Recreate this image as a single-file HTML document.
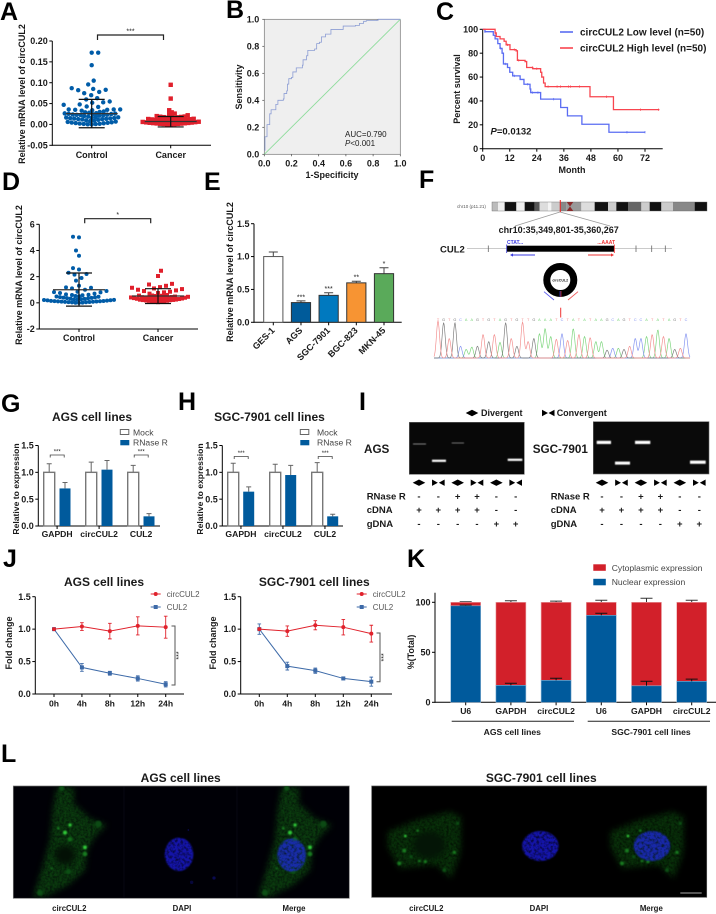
<!DOCTYPE html>
<html lang="en">
<head>
<meta charset="utf-8">
<title>circCUL2 multi-panel figure</title>
<style>
html,body{margin:0;padding:0;background:#fff;width:716px;height:914px;overflow:hidden}
svg{display:block;font-family:"Liberation Sans",Arial,sans-serif}
text{fill:#1a1a1a}
.b{font-weight:bold}
.letter{font-size:25px;font-weight:bold;fill:#000}
</style>
</head>
<body>
<svg id="figure" xmlns="http://www.w3.org/2000/svg" width="716" height="914" viewBox="0 0 716 914">
<defs>
<filter id="blurBig" color-interpolation-filters="sRGB" x="-30%" y="-30%" width="160%" height="160%"><feGaussianBlur stdDeviation="9"/></filter>
<filter id="speckleCell" color-interpolation-filters="sRGB" x="-30%" y="-30%" width="160%" height="160%">
<feGaussianBlur in="SourceGraphic" stdDeviation="9" result="b"/>
<feTurbulence type="fractalNoise" baseFrequency=".14" numOctaves="3" seed="3" result="n"/>
<feColorMatrix in="n" type="matrix" values="0 0 0 0 1  0 0 0 0 1  0 0 0 0 1  1.2 0 0 0 .2" result="a"/>
<feComposite in="b" in2="a" operator="in"/>
</filter>
<filter id="blurSmall" color-interpolation-filters="sRGB" x="-100%" y="-100%" width="300%" height="300%"><feGaussianBlur stdDeviation="2"/></filter>
<filter id="blurBand" color-interpolation-filters="sRGB" x="-20%" y="-200%" width="140%" height="500%"><feGaussianBlur stdDeviation="0.5"/></filter>
<filter id="blurNuc" color-interpolation-filters="sRGB" x="-20%" y="-20%" width="140%" height="140%">
<feGaussianBlur in="SourceGraphic" stdDeviation="2" result="b"/>
<feTurbulence type="fractalNoise" baseFrequency=".12" numOctaves="2" seed="7" result="n"/>
<feColorMatrix in="n" type="matrix" values="0 0 0 0 1  0 0 0 0 1  0 0 0 0 1  1.6 0 0 0 .05" result="a"/>
<feComposite in="b" in2="a" operator="in"/>
</filter>
<clipPath id="clipL1"><rect x="40" y="258" width="332" height="337"/></clipPath>
<clipPath id="clipL2"><rect x="47" y="258" width="335" height="334"/></clipPath>
</defs>

<g>
<text class="letter" x="0" y="20">A</text>
<text class="letter" x="226" y="18">B</text>
<text class="letter" x="436" y="20">C</text>
<text class="letter" x="2" y="190">D</text>
<text class="letter" x="204" y="190">E</text>
<text class="letter" x="419" y="188">F</text>
<text class="letter" x="1" y="412">G</text>
<text class="letter" x="178" y="410">H</text>
<text class="letter" x="359" y="410">I</text>
<text class="letter" x="3" y="567">J</text>
<text class="letter" x="407" y="567">K</text>
<text class="letter" x="1" y="762">L</text>
</g>

<g>
<g id="chromosome"></g>
<path d="M566.7 202L570 206.5 566.7 211H573.3L570 206.5 573.3 202Z" fill="#8a2a2a"/>
<text x="457" y="208" font-size="4.5" style="fill:#555">chr10 (p11.21)</text>
<line x1="560" y1="212" x2="515" y2="226" stroke="#999" stroke-width=".7"/>
<line x1="560" y1="212" x2="610" y2="226" stroke="#999" stroke-width=".7"/>
<line x1="560.3" y1="200" x2="560.3" y2="212" stroke="#e22" stroke-width="1"/>
<text class="b" x="558.7" y="233" font-size="9" text-anchor="middle">chr10:35,349,801-35,360,267</text>
<text class="b" x="440" y="252.5" font-size="9.5">CUL2</text>
<line x1="467" y1="248.7" x2="672" y2="248.7" stroke="#aaa" stroke-width=".7"/>
<g stroke="#666" stroke-width=".8">
<line x1="488.3" y1="245.5" x2="488.3" y2="252"/><line x1="636" y1="245.5" x2="636" y2="252"/><line x1="651.7" y1="245.5" x2="651.7" y2="252"/><line x1="665.3" y1="245.5" x2="665.3" y2="252"/>
</g>
<rect x="506.7" y="245.7" width="107.6" height="6" fill="#000"/>
<line x1="506.7" y1="244.5" x2="506.7" y2="253" stroke="#33c" stroke-width=".8"/>
<line x1="614.3" y1="244.5" x2="614.3" y2="253" stroke="#e22" stroke-width=".8"/>
<text class="b" x="507" y="244" font-size="5" style="fill:#3a3ae0">CTAT...</text>
<text class="b" x="615" y="244" font-size="5" text-anchor="end" style="fill:#ee3333">...AAAT</text>
<line x1="511" y1="255" x2="535" y2="255" stroke="#3a3ae0" stroke-width=".9"/>
<path d="M510 255l3-1.6v3.2z" fill="#3a3ae0"/>
<line x1="588" y1="255" x2="612" y2="255" stroke="#ee3333" stroke-width=".9"/>
<path d="M614 255l-3-1.6v3.2z" fill="#ee3333"/>
<circle cx="560.3" cy="280" r="13.5" fill="#fff" stroke="#000" stroke-width="7"/>
<text class="b" x="560.3" y="281.3" font-size="3.6" text-anchor="middle">circCUL2</text>
<line x1="560" y1="291" x2="560" y2="297" stroke="#3030c0" stroke-width=".8"/>
<line x1="561" y1="291" x2="561" y2="297" stroke="#d03030" stroke-width=".8"/>
<line x1="544" y1="291.7" x2="554" y2="300" stroke="#5a5aee" stroke-width=".9"/>
<line x1="578" y1="291.7" x2="568" y2="300" stroke="#ee5a5a" stroke-width=".9"/>
<line x1="560.7" y1="307.7" x2="560.7" y2="317.5" stroke="#e33" stroke-width="1"/>
</g>
<g id="sanger"></g>

<g>
<path d="M465.7 413l6.3-3.3v6.6zM478.3 413l-6.3-3.3v6.6z" fill="#000"/>
<text class="b" x="481" y="416.2" font-size="9">Divergent</text>
<path d="M542 409.7l6 3.3-6 3.3zM554.5 409.7l-6 3.3 6 3.3z" fill="#000"/>
<text class="b" x="556.7" y="416.2" font-size="9">Convergent</text>
<text class="b" x="364" y="453.2" font-size="11.7">AGS</text>
<text class="b" x="532.7" y="453.2" font-size="11.7">SGC-7901</text>
<rect x="409.3" y="422.3" width="115" height="52" fill="#080808" stroke="#666" stroke-width=".6"/>
<rect x="593.3" y="421.7" width="115.7" height="52.3" fill="#0a0a0a" stroke="#666" stroke-width=".6"/>
<g filter="url(#blurBand)" fill="#fff">
<rect x="413" y="443.5" width="13" height="1" fill="#888"/>
<rect x="432" y="459.7" width="14" height="2.2"/>
<rect x="451.7" y="442.5" width="12.3" height="1" fill="#777"/>
<rect x="507.7" y="458.7" width="14.6" height="2.2"/>
<rect x="596.7" y="440.8" width="14.3" height="3.2"/>
<rect x="615" y="461.6" width="15" height="3"/>
<rect x="635" y="440.8" width="15.3" height="3.2"/>
<rect x="690" y="460.6" width="15.7" height="3.2"/>
</g>
<g id="gelTable"></g>
</g>

<g>
<text class="b" x="180.7" y="782" font-size="12" text-anchor="middle">AGS cell lines</text>
<text class="b" x="541.3" y="782" font-size="12" text-anchor="middle">SGC-7901 cell lines</text>
<rect x="13.3" y="786" width="336" height="112.3" fill="#000006" stroke="#777" stroke-width=".7"/>
<rect x="371.7" y="786" width="335" height="111.3" fill="#000" stroke="#555" stroke-width=".7"/>
<line x1="124" y1="786.5" x2="124" y2="898" stroke="#0a0a18" stroke-width=".7"/>
<line x1="237" y1="786.5" x2="237" y2="898" stroke="#0a0a18" stroke-width=".7"/>
<g transform="translate(0,700) scale(.33333)">
<g id="agsGreen" clip-path="url(#clipL1)">
<path filter="url(#speckleCell)" d="M170 262H222V310L270 355 320 375 285 410 262 450 255 510 205 555 130 592 100 590 125 510 150 420 158 330Z" fill="#0a3a0e"/>
<ellipse filter="url(#blurBig)" cx="195" cy="465" rx="30" ry="28" fill="#031005"/>
<g filter="url(#blurSmall)" fill="#30c838">
<circle cx="210" cy="375" r="5"/><circle cx="195" cy="398" r="6"/><circle cx="210" cy="418" r="7" fill="#116a18"/><circle cx="255" cy="442" r="6"/><circle cx="255" cy="462" r="7" fill="#187a20"/><circle cx="175" cy="385" r="4" fill="#187a20"/><circle cx="295" cy="372" r="10" fill="#0c4a14"/><circle cx="205" cy="515" r="8" fill="#0c4f14"/><circle cx="120" cy="578" r="9" fill="#0c4f14"/><circle cx="185" cy="265" r="8" fill="#0c4f14"/><circle cx="155" cy="505" r="3" fill="#187a20"/>
</g>
</g>
<g>
<ellipse filter="url(#blurNuc)" cx="537" cy="463" rx="43" ry="50" fill="#1414a8"/>
<circle cx="565" cy="390" r="2.5" fill="#0a0a50"/><circle cx="642" cy="534" r="5" fill="#0a0a50"/><circle cx="575" cy="547" r="5" fill="#07073a"/>
</g>
<use href="#agsGreen" transform="translate(675,0)"/>
<ellipse filter="url(#blurNuc)" cx="875" cy="465" rx="43" ry="50" fill="#182ca8"/>
</g>
<g transform="translate(356,700) scale(.33333)">
<g id="sgcGreen" clip-path="url(#clipL2)">
<path filter="url(#speckleCell)" d="M95 395L180 360 280 335 315 350 315 440 310 470 285 535 240 495 130 505 95 440Z" fill="#083009"/>
<ellipse filter="url(#blurBig)" cx="220" cy="435" rx="48" ry="40" fill="#041506"/>
<g filter="url(#blurSmall)" fill="#187a20">
<circle cx="148" cy="408" r="4" fill="#30c838"/><circle cx="185" cy="392" r="4"/><circle cx="145" cy="452" r="6"/><circle cx="208" cy="485" r="5"/><circle cx="130" cy="490" r="6"/><circle cx="190" cy="483" r="4"/><circle cx="295" cy="457" r="5"/><circle cx="265" cy="510" r="6" fill="#0c4f14"/><circle cx="305" cy="370" r="5" fill="#0c4f14"/><circle cx="165" cy="470" r="5" fill="#0c4f14"/>
</g>
</g>
<ellipse filter="url(#blurNuc)" cx="553" cy="438" rx="55" ry="45" fill="#1414a8"/>
<use href="#sgcGreen" transform="translate(668,0)"/>
<ellipse filter="url(#blurNuc)" cx="888" cy="438" rx="55" ry="45" fill="#1828a8"/>
</g>
<line x1="680.3" y1="893" x2="701.7" y2="893" stroke="#aaa" stroke-width="1"/>
<g class="b" font-size="7.8" text-anchor="middle">
<text x="69.3" y="911">circCUL2</text>
<text x="182" y="911">DAPI</text>
<text x="294" y="911">Merge</text>
<text x="426.3" y="911">circCUL2</text>
<text x="539" y="911">DAPI</text>
<text x="651.3" y="911">Merge</text>
</g>
</g>
<g id="charts"></g>
</svg>

<script>
/* ---------- Panel A data ---------- */
const aCategories = ['Control', 'Cancer'];
const aTicks = [-0.05, 0, 0.05, 0.10, 0.15, 0.20];
const aControl = [0,.0004,.0008,.0012,.0016,.002,.0026,.0032,.0038,.0044,.005,.006,.007,.008,.009,.010,.011,.012,.0125,.013,.0135,.014,.0145,.015,.0155,.016,.0165,.017,.018,.019,.02,.021,.022,.0225,.023,.0235,.024,.0245,.025,.0255,.026,.0265,.027,.028,.029,.03,.031,.036,.036,.036,.035,.035,.033,.034,.042,.047,.043,.048,.053,.052,.055,.060,.063,.070,.075,.078,.082,.083,.085,.087,.096,.105,.142,.172,.172];
const aCancer = [0,.0003,.0006,.001,.0013,.0016,.002,.0024,.0028,.0032,.0036,.004,.0045,.005,.0055,.006,.0065,.007,.0075,.008,.0085,.009,.0095,.01,.0105,.011,.0115,.012,.0125,.013,.0135,.014,.015,.016,.017,.0175,.018,.0185,.019,.02,.021,.022,.024,.026,.029,.034,.062,.095];
const aControlStats = [0.026, 0.060, -0.008];
const aCancerStats = [0.007, 0.019, -0.006];
/* ---------- Panel B data ---------- */
const bTicks = [0, 0.2, 0.4, 0.6, 0.8, 1.0];
const rocFpr = [0,.005,.02,.02,.035,.04,.05,.08,.085,.1,.1,.14,.145,.165,.17,.18,.2,.21,.235,.28,.285,.31,.32,.37,.385,.405,.42,.45,.49,.49,.56,.58,.67,.7,.73,.75,.83,.84,1];
const rocTpr = [.03,.13,.13,.22,.22,.3,.33,.33,.37,.37,.4,.41,.45,.47,.52,.56,.57,.61,.64,.66,.7,.73,.77,.78,.82,.83,.87,.89,.9,.925,.925,.95,.955,.97,.985,.99,.995,1,1];
/* ---------- Panel C data ---------- */
const cMonthTicks = [0, 12, 24, 36, 48, 60, 72];
const cSurvivalTicks = [0, 20, 40, 60, 80, 100];
const lowMonths = [0,1,4.7,5.5,6.7,7.7,8.6,9.2,11,12,13.3,16.6,18.3,21,21.3,25.7,34.6,37.6,44,56,72];
const lowSurvival = [100,98,95,92,88,84,80,71,68,64,61,58,54,50,47,41.5,34.5,27.5,20.5,13.8,13.8];
const lowCensor = [1,8,10,14,20,22,24.5,31.5,64,72];
const highMonths = [0,5.5,6,7.7,9.5,10.4,12.1,14.8,15.4,18.8,19.5,22.2,25.7,26.2,27,27.7,47.6,58,78.4];
const highSurvival = [100,97,94,92,90,87,83,82,74,73,68,67,64,60,55,52,43.5,32.7,32.7];
const highCensor = [5.5,11,14,16,22,24,29,33,34.5,38,39,43,55,70,78];
/* ---------- Panel D data ---------- */
const dTicks = [-2, 0, 2, 4, 6];
const dControl = [0,.01,.02,.03,.04,.05,.06,.07,.08,.09,.1,.11,.12,.13,.14,.15,.17,.19,.2,.22,.23,.25,.26,.28,.3,.32,.34,.36,.38,.4,.42,.44,.46,.48,.5,.52,.6,.62,.65,.58,.7,.75,.8,.82,.85,.9,1.0,1.1,1.15,1.18,1.3,1.7,1.9,2.15,2.2,2.3,2.55,2.65,3.6,4.0,5.0,5.05];
const dCancer = [.05,.08,.1,.12,.13,.15,.16,.18,.2,.21,.22,.24,.25,.27,.29,.3,.31,.32,.33,.34,.35,.36,.37,.38,.39,.4,.41,.42,.43,.44,.46,.48,.5,.52,.54,.55,.56,.57,.6,.7,.75,.8,.85,.9,.95,1.0,1.05,1.1,1.15,1.2,1.3,1.4,1.45,2.05,2.45];
const dControlStats = [1.0, 2.28, -0.25];
const dCancerStats = [0.52, 1.08, -0.05];
/* ---------- Panel E data ---------- */
const eLines = ['GES-1', 'AGS', 'SGC-7901', 'BGC-823', 'MKN-45'];
const eValues = [1.0, 0.30, 0.41, 0.60, 0.74];
const eErrors = [0.07, 0.025, 0.04, 0.025, 0.09];
const eStars = ['', '***', '***', '**', '*'];
const eColors = ['#ffffff', '#005b9a', '#0079bf', '#f79433', '#5aaa5a'];
const eTicks = [0, 0.5, 1.0, 1.5];
/* ---------- Panel G / H data ---------- */
const rnaseGenes = ['GAPDH', 'circCUL2', 'CUL2'];
const rnaseTicks = [0, 0.5, 1.0, 1.5];
const gMock = [1.0, 1.0, 1.0];
const gMockErr = [0.16, 0.19, 0.13];
const gRnase = [0.70, 1.05, 0.18];
const gRnaseErr = [0.11, 0.17, 0.05];
const hMock = [1.0, 1.0, 1.0];
const hMockErr = [0.17, 0.15, 0.18];
const hRnase = [0.64, 0.95, 0.18];
const hRnaseErr = [0.09, 0.18, 0.04];
/* ---------- Panel J data ---------- */
const jTimes = ['0h', '4h', '8h', '12h', '24h'];
const jTicks = [0, 0.5, 1.0, 1.5];
const jAgsCirc = [1.0, 1.04, 0.97, 1.05, 1.03];
const jAgsCircErr = [0.0, 0.06, 0.12, 0.14, 0.17];
const jAgsCul = [1.0, 0.41, 0.32, 0.24, 0.15];
const jAgsCulErr = [0.0, 0.06, 0.03, 0.04, 0.04];
const jSgcCirc = [1.0, 0.97, 1.06, 1.03, 0.93];
const jSgcCircErr = [0.0, 0.08, 0.07, 0.12, 0.13];
const jSgcCul = [1.0, 0.43, 0.36, 0.24, 0.19];
const jSgcCulErr = [0.08, 0.06, 0.04, 0.02, 0.07];
/* ---------- Panel K data ---------- */
const kLabels = ['U6', 'GAPDH', 'circCUL2', 'U6', 'GAPDH', 'circCUL2'];
const kNuclear = [96.5, 17, 22, 87, 16.5, 21];
const kNuclearErr = [0.7, 2, 2, 2, 4.5, 2.2];
const kCytoErr = [0.5, 1.5, 1.2, 2, 4, 2];
const kTicks = [0, 50, 100];
/* ---------- Panel F data ---------- */
const sangerBases = ['T','G','T','G','C','A','A','G','T','G','T','A','G','T','G','T','T','G','A','A','A','T','C','T','A','T','A','T','A','A','G','C','A','G','T','C','C','A','T','A','T','A','G','T','C'];
const sangerHeights = [.95,.9,.5,.9,.3,.22,.28,.3,.6,.42,.6,.4,.9,.5,.3,.92,.42,.5,.62,.75,.55,.48,.62,.45,.75,.6,.55,.52,.42,.42,.2,.25,.25,.22,.3,.5,.5,.55,.6,.72,.55,.5,.22,.25,.62];
const chromoBandShades = ['#bbb','#eee','#111','#eee','#111','#555','#ddd','#f4f4f4','#ccc','#888','#999','#999','#ddd','#111','#ccc','#111','#666','#ccc','#111','#ccc','#888','#111'];
const chromoBandWeights = [18,20,35,25,30,15,25,10,25,20,20,25,40,40,25,35,40,25,35,35,65,37];
const gelRows = ['RNase R', 'cDNA', 'gDNA'];
const gelRnase = ['-', '-', '+', '+', '-', '-'];
const gelCdna = ['+', '+', '+', '+', '-', '-'];
const gelGdna = ['-', '-', '-', '-', '+', '+'];
const gelPrimers = ['divergent', 'convergent', 'divergent', 'convergent', 'divergent', 'convergent'];

const NS = 'http://www.w3.org/2000/svg';
const root = document.getElementById('charts');

function add(parent, tag, attrs, text) {
  const el = document.createElementNS(NS, tag);
  for (const k in attrs) el.setAttribute(k, attrs[k]);
  if (text !== undefined) el.textContent = text;
  parent.appendChild(el);
  return el;
}
function nm(el, name) {
  
  
  return el;
}
function linear(d0, d1, r0, r1) {
  return function (v) { return r0 + (v - d0) * (r1 - r0) / (d1 - d0); };
}
function group(name) { return nm(add(root, 'g', {}), name); }

function yAxis(g, x, scale, ticks, fmt, top, size) {
  const y0 = scale(ticks[0]);
  nm(add(g, 'line', {x1: x, x2: x, y1: y0 + .5, y2: top, stroke: '#000', 'stroke-width': 1}), 'y-axis-line');
  ticks.forEach(function (t) {
    const y = scale(t);
    nm(add(g, 'line', {x1: x - 3, x2: x, y1: y, y2: y, stroke: '#000', 'stroke-width': 1}), 'y-tick');
    nm(add(g, 'text', {x: x - 4.5, y: y + 3.1, 'font-size': size || 9, 'font-weight': 'bold', 'text-anchor': 'end'}, fmt(t)), 'y-tick-label');
  });
}
function xAxisLine(g, x0, x1, y) {
  nm(add(g, 'line', {x1: x0, x2: x1, y1: y, y2: y, stroke: '#000', 'stroke-width': 1}), 'x-axis-line');
}
function xTick(g, x, y, label, labelY, size) {
  nm(add(g, 'line', {x1: x, x2: x, y1: y, y2: y + 3, stroke: '#000', 'stroke-width': 1}), 'x-tick');
  if (label !== null) nm(add(g, 'text', {x: x, y: labelY, 'font-size': size || 9, 'font-weight': 'bold', 'text-anchor': 'middle'}, label), 'x-tick-label');
}
function yTitle(g, x, y, label, size) {
  nm(add(g, 'text', {transform: 'translate(' + x + ',' + y + ') rotate(-90)', 'font-size': size || 9, 'font-weight': 'bold', 'text-anchor': 'middle'}, label), 'y-axis-title');
}
function errorBar(g, x, yFrom, yTo, halfCap, color, width) {
  nm(add(g, 'path', {d: 'M' + x + ' ' + yFrom + 'V' + yTo + 'M' + (x - halfCap) + ' ' + yTo + 'H' + (x + halfCap), stroke: color, 'stroke-width': width, fill: 'none'}), 'error-bar');
}
function sigBracket(g, x0, x1, y, h, label, sw) {
  nm(add(g, 'path', {d: 'M' + x0 + ' ' + (y + h) + 'V' + y + 'H' + x1 + 'V' + (y + h), stroke: '#222', 'stroke-width': sw, fill: 'none'}), 'significance-bracket');
  nm(add(g, 'text', {x: (x0 + x1) / 2, y: y - 1.5, 'font-size': 7, 'text-anchor': 'middle'}, label), 'significance-label');
}
/* Beeswarm layout: x offsets are derived from the values themselves.
   Values above denseBelow use the wider sparse spacing, like the original plot. */
function swarm(values, scale, d, dSparse, denseBelow) {
  const sorted = values.slice().sort(function (a, b) { return a - b; });
  const placed = [];
  sorted.forEach(function (v, i) {
    const y = scale(v);
    const sparse = v > denseBelow;
    const dir = i % 2 ? 1 : -1;
    for (let k = 0; k < 300; k++) {
      const off = (k % 2 ? -1 : 1) * dir * Math.ceil(k / 2) * 0.5;
      const clash = placed.some(function (p) {
        const dd = (sparse && p.sparse) ? dSparse : d;
        return (p.off - off) * (p.off - off) + (p.y - y) * (p.y - y) < dd * dd;
      });
      if (!clash) { placed.push({off: off, y: y, sparse: sparse}); break; }
    }
  });
  return placed;
}
function scatterPanel(name, controlVals, cancerVals, controlStats, cancerStats, scale, cx0, cx1, cfg) {
  const g = group(name);
  const mk = function (vals, stats, cx, color, square, halfMean, halfSd, label, d, dense) {
    swarm(vals, scale, d, cfg.sparse, dense).forEach(function (p) {
      if (square) {
        nm(add(g, 'rect', {x: cx + p.off - cfg.r, y: p.y - cfg.r, width: cfg.r * 2, height: cfg.r * 2, fill: color}), label + '-point');
      } else {
        nm(add(g, 'circle', {cx: cx + p.off, cy: p.y, r: cfg.r, fill: color}), label + '-point');
      }
    });
    nm(add(g, 'line', {x1: cx - halfMean, x2: cx + halfMean, y1: scale(stats[0]), y2: scale(stats[0]), stroke: '#333', 'stroke-width': 1.2}), label + '-mean-line');
    nm(add(g, 'path', {d: 'M' + (cx - halfSd) + ' ' + scale(stats[1]) + 'H' + (cx + halfSd) + 'M' + cx + ' ' + scale(stats[1]) + 'V' + scale(stats[2]) + 'M' + (cx - halfSd) + ' ' + scale(stats[2]) + 'H' + (cx + halfSd), stroke: '#111', 'stroke-width': 1.2, fill: 'none'}), label + '-sd-bar');
  };
  mk(controlVals, controlStats, cx0, '#005ca8', false, 26, 13, 'control', cfg.dControl, cfg.denseControl);
  mk(cancerVals, cancerStats, cx1, '#e0202c', true, 26, 13, 'cancer', cfg.dCancer, cfg.denseCancer);
  return g;
}
function stepPath(xs, ys, sx, sy) {
  let d = 'M' + sx(xs[0]) + ' ' + sy(ys[0]);
  for (let i = 1; i < xs.length; i++) {
    d += 'H' + sx(xs[i]) + 'V' + sy(ys[i]);
  }
  return d;
}
function stepLookup(xs, ys, m) {
  let v = ys[0];
  for (let i = 0; i < xs.length; i++) { if (xs[i] <= m) v = ys[i]; }
  return v;
}

/* ---- Panel A ---- */
(function () {
  const y = linear(-0.05, 0.20, 145.3, 41);
  const g = scatterPanel('panel-a-scatter', aControl, aCancer, aControlStats, aCancerStats, y, 91.7, 170.7, {dControl: 3.6, dCancer: 3.2, sparse: 6.5, denseControl: .032, denseCancer: .03, r: 2.2});
  yAxis(g, 52.3, y, aTicks, function (t) { return t.toFixed(2); }, 41);
  xAxisLine(g, 52.3, 211, 145.3);
  xTick(g, 91.7, 145.3, aCategories[0], 158);
  xTick(g, 170.7, 145.3, aCategories[1], 158);
  yTitle(g, 25, 94, 'Relative mRNA level of circCUL2');
  sigBracket(g, 97.5, 163.5, 35, 5, '***', 1.2);
})();

/* ---- Panel B ---- */
(function () {
  const g = group('panel-b-roc');
  const x = linear(0, 1, 264.3, 400.3);
  const y = linear(0, 1, 154.3, 19.3);
  nm(add(g, 'rect', {x: x(0), y: y(1), width: x(1) - x(0), height: y(0) - y(1), fill: '#efefef', stroke: '#777', 'stroke-width': .7}), 'roc-plot-area');
  nm(add(g, 'line', {x1: x(0), y1: y(0), x2: x(1), y2: y(1), stroke: '#8edc9c', 'stroke-width': .9}), 'reference-diagonal');
  nm(add(g, 'path', {d: stepPath(rocFpr, rocTpr, x, y), fill: 'none', stroke: '#8c9dd4', 'stroke-width': .8}), 'roc-curve');
  bTicks.forEach(function (t) {
    nm(add(g, 'line', {x1: x(0) - 2, x2: x(0), y1: y(t), y2: y(t), stroke: '#444', 'stroke-width': .7}), 'y-tick');
    nm(add(g, 'text', {x: x(0) - 5, y: y(t) + 3.1, 'font-size': 9, 'font-weight': 'bold', 'text-anchor': 'end'}, t.toFixed(1)), 'y-tick-label');
    nm(add(g, 'line', {x1: x(t), x2: x(t), y1: y(0), y2: y(0) + 2, stroke: '#444', 'stroke-width': .7}), 'x-tick');
    nm(add(g, 'text', {x: x(t), y: y(0) + 12, 'font-size': 9, 'font-weight': 'bold', 'text-anchor': 'middle'}, t.toFixed(1)), 'x-tick-label');
  });
  nm(add(g, 'text', {x: 332, y: 178, 'font-size': 9, 'font-weight': 'bold', 'text-anchor': 'middle'}, '1-Specificity'), 'x-axis-title');
  yTitle(g, 242, 87, 'Sensitivity');
  nm(add(g, 'text', {x: 345, y: 137, 'font-size': 8}, 'AUC=0.790'), 'auc-label');
  const p = nm(add(g, 'text', {x: 345, y: 146, 'font-size': 8}), 'p-value-label');
  add(p, 'tspan', {'font-style': 'italic'}, 'P');
  add(p, 'tspan', {}, '<0.001');
})();

/* ---- Panel C ---- */
(function () {
  const g = group('panel-c-survival');
  const x = linear(0, 72, 482.7, 645);
  const y = linear(0, 100, 148.7, 29.3);
  yAxis(g, 482.7, y, cSurvivalTicks, String, 29.3);
  xAxisLine(g, 482.7, 662.7, 148.7);
  cMonthTicks.forEach(function (m) { xTick(g, x(m), 148.7, String(m), 161); });
  nm(add(g, 'text', {x: 572, y: 173, 'font-size': 9, 'font-weight': 'bold', 'text-anchor': 'middle'}, 'Month'), 'x-axis-title');
  yTitle(g, 460, 89, 'Percent survival');
  const series = [
    [lowMonths, lowSurvival, lowCensor, '#5a6cf2', 'low-level'],
    [highMonths, highSurvival, highCensor, '#f8454f', 'high-level']
  ];
  series.forEach(function (s) {
    nm(add(g, 'path', {d: stepPath(s[0], s[1], x, y), fill: 'none', stroke: s[3], 'stroke-width': 1.3}), 'survival-curve-' + s[4]);
    s[2].forEach(function (m) {
      const yy = y(stepLookup(s[0], s[1], m));
      nm(add(g, 'line', {x1: x(m), x2: x(m), y1: yy - 1.2, y2: yy + 1.2, stroke: s[3], 'stroke-width': .7}), 'censor-mark-' + s[4]);
    });
  });
  nm(add(g, 'line', {x1: 560, x2: 573, y1: 32, y2: 32, stroke: '#5a6cf2', 'stroke-width': 1.6}), 'legend-line-low');
  nm(add(g, 'text', {x: 580, y: 35.5, 'font-size': 10, 'font-weight': 'bold'}, 'circCUL2 Low level (n=50)'), 'legend-label-low');
  nm(add(g, 'line', {x1: 560, x2: 573, y1: 48, y2: 48, stroke: '#f8454f', 'stroke-width': 1.6}), 'legend-line-high');
  nm(add(g, 'text', {x: 580, y: 51.5, 'font-size': 10, 'font-weight': 'bold'}, 'circCUL2 High level (n=50)'), 'legend-label-high');
  const p = nm(add(g, 'text', {x: 490.5, y: 134.5, 'font-size': 9.5, 'font-weight': 'bold'}), 'p-value-label');
  add(p, 'tspan', {'font-style': 'italic'}, 'P');
  add(p, 'tspan', {}, '=0.0132');
})();

/* ---- Panel D ---- */
(function () {
  const y = linear(-2, 6, 329, 224.3);
  const g = scatterPanel('panel-d-scatter', dControl, dCancer, dControlStats, dCancerStats, y, 79, 158, {dControl: 3.5, dCancer: 3, sparse: 6, denseControl: .55, denseCancer: .62, r: 2});
  yAxis(g, 39.3, y, dTicks, String, 224.3);
  xAxisLine(g, 39.3, 198, 329);
  xTick(g, 79, 329, aCategories[0], 341);
  xTick(g, 158, 329, aCategories[1], 341);
  yTitle(g, 22, 275, 'Relative mRNA level of circCUL2');
  sigBracket(g, 84.7, 150.7, 218.7, 4.5, '*', 1.2);
})();

/* ---- Panel E ---- */
(function () {
  const g = group('panel-e-bars');
  const y = linear(0, 1.5, 322.3, 223.7);
  const x = linear(0, 4, 273.3, 384);
  yAxis(g, 254, y, eTicks, function (t) { return t.toFixed(1); }, 223.7);
  xAxisLine(g, 254, 401.7, 322.3);
  eLines.forEach(function (name, i) {
    const cx = x(i);
    errorBar(g, cx, y(eValues[i]), y(eValues[i] + eErrors[i]), 4.5, '#444', 1);
    nm(add(g, 'rect', {x: cx - 9.6, y: y(eValues[i]), width: 19.2, height: y(0) - y(eValues[i]), fill: eColors[i], stroke: i === 0 ? '#555' : '#333', 'stroke-width': 1}), 'bar-' + name.toLowerCase());
    if (eStars[i]) nm(add(g, 'text', {x: cx, y: y(eValues[i] + eErrors[i]) - 1.5, 'font-size': 7, 'text-anchor': 'middle'}, eStars[i]), 'significance-label');
    xTick(g, cx, 322.3, null, 0);
    nm(add(g, 'text', {transform: 'translate(' + (cx + 2) + ',331) rotate(-45)', 'font-size': 9, 'font-weight': 'bold', 'text-anchor': 'end'}, name), 'x-tick-label');
  });
  yTitle(g, 233, 272, 'Relative mRNA level of circCUL2');
})();

/* ---- Panels G and H ---- */
function rnasePanel(name, cfg, mock, mockErr, rnase, rnaseErr) {
  const g = group(name);
  const y = linear(0, 1.5, 526, 445.5);
  const halfW = 5.5;
  yAxis(g, cfg.axisX, y, rnaseTicks, function (t) { return t.toFixed(1); }, 445.5);
  xAxisLine(g, cfg.axisX, cfg.axisEnd, 526);
  rnaseGenes.forEach(function (gene, i) {
    const mx = cfg.first + i * cfg.groupStep;
    const bx = mx + cfg.pairStep;
    errorBar(g, mx, y(mock[i]), y(mock[i] + mockErr[i]), 2.5, '#666', 1);
    nm(add(g, 'rect', {x: mx - halfW, y: y(mock[i]), width: 2 * halfW, height: y(0) - y(mock[i]), fill: '#fff', stroke: '#777', 'stroke-width': 1.4}), 'bar-mock-' + gene.toLowerCase());
    errorBar(g, bx, y(rnase[i]), y(rnase[i] + rnaseErr[i]), 2.5, '#666', 1);
    nm(add(g, 'rect', {x: bx - halfW, y: y(rnase[i]), width: 2 * halfW, height: y(0) - y(rnase[i]), fill: '#005a9c'}), 'bar-rnase-' + gene.toLowerCase());
    xTick(g, (mx + bx) / 2, 526, gene, 537, 8.6);
  });
  [0, 2].forEach(function (i) {
    const mx = cfg.first + i * cfg.groupStep;
    nm(add(g, 'path', {d: 'M' + (mx + 1) + ' ' + (cfg.bracketY + 2.5) + 'V' + cfg.bracketY + 'H' + (mx + 15) + 'V' + (cfg.bracketY + 2.5), stroke: '#444', 'stroke-width': .8, fill: 'none'}), 'significance-bracket');
    nm(add(g, 'text', {x: mx + 8, y: cfg.bracketY - 1.5, 'font-size': 6, 'text-anchor': 'middle'}, '***'), 'significance-label');
  });
  nm(add(g, 'text', {x: cfg.titleX, y: 421, 'font-size': 12, 'font-weight': 'bold', 'text-anchor': 'middle'}, cfg.title), 'panel-title');
  yTitle(g, cfg.yTitleX, 489, 'Relative to expression', 8.6);
  nm(add(g, 'rect', {x: cfg.legX, y: 429.5, width: 8.5, height: 5, fill: '#fff', stroke: '#666', 'stroke-width': 1}), 'legend-swatch-mock');
  nm(add(g, 'rect', {x: cfg.legX, y: 440, width: 9, height: 5.3, fill: '#005a9c'}), 'legend-swatch-rnase');
  nm(add(g, 'text', {x: cfg.legTextX, y: 435.5, 'font-size': 8.6, style: 'fill:#444'}, 'Mock'), 'legend-label-mock');
  nm(add(g, 'text', {x: cfg.legTextX, y: 445.5, 'font-size': 8.6, style: 'fill:#444'}, 'RNase R'), 'legend-label-rnase');
}
rnasePanel('panel-g-bars', {axisX: 38.3, axisEnd: 160, first: 49.2, groupStep: 42, pairStep: 15.8, bracketY: 455, titleX: 92, yTitleX: 19, legX: 120.3, legTextX: 133, title: 'AGS cell lines'}, gMock, gMockErr, gRnase, gRnaseErr);
rnasePanel('panel-h-bars', {axisX: 222.3, axisEnd: 343, first: 233.2, groupStep: 42, pairStep: 15.5, bracketY: 456.5, titleX: 269.5, yTitleX: 203, legX: 300.3, legTextX: 317, title: 'SGC-7901 cell lines'}, hMock, hMockErr, hRnase, hRnaseErr);

/* ---- Panel J ---- */
function linePanel(name, cfg, circ, circErr, cul, culErr) {
  const g = group(name);
  const y = linear(0, 1.5, 694, 596.7);
  const x = linear(0, 4, cfg.x0, cfg.x4);
  yAxis(g, cfg.axisX, y, jTicks, function (t) { return t.toFixed(1); }, 596.7);
  xAxisLine(g, cfg.axisX, cfg.axisEnd, 694);
  jTimes.forEach(function (t, i) { xTick(g, x(i), 694, t, 706.5, 8.6); });
  const draw = function (vals, errs, color, square, label) {
    const pts = vals.map(function (v, i) { return x(i) + ',' + y(v); }).join(' ');
    nm(add(g, 'polyline', {points: pts, fill: 'none', stroke: color, 'stroke-width': 1}), 'line-' + label);
    vals.forEach(function (v, i) {
      if (errs[i] > 0) nm(add(g, 'path', {d: 'M' + x(i) + ' ' + y(v + errs[i]) + 'V' + y(v - errs[i]) + 'M' + (x(i) - 1.8) + ' ' + y(v + errs[i]) + 'h3.6M' + (x(i) - 1.8) + ' ' + y(v - errs[i]) + 'h3.6', stroke: color, 'stroke-width': .9, fill: 'none'}), 'error-bar-' + label);
      if (square) nm(add(g, 'rect', {x: x(i) - 2, y: y(v) - 2, width: 4, height: 4, fill: color}), 'point-' + label);
      else nm(add(g, 'circle', {cx: x(i), cy: y(v), r: 2, fill: color}), 'point-' + label);
    });
  };
  draw(cul, culErr, '#3d6aa8', true, 'cul2');
  draw(circ, circErr, '#e0222c', false, 'circcul2');
  nm(add(g, 'path', {d: 'M' + (cfg.bx - 3.5) + ' ' + cfg.by0 + 'H' + cfg.bx + 'V' + cfg.by1 + 'H' + (cfg.bx - 3.5), stroke: '#555', 'stroke-width': 1, fill: 'none'}), 'significance-bracket');
  nm(add(g, 'text', {transform: 'translate(' + (cfg.bx + 6) + ',' + ((cfg.by0 + cfg.by1) / 2) + ') rotate(-90)', 'font-size': 7, 'text-anchor': 'middle'}, '***'), 'significance-label');
  nm(add(g, 'text', {x: cfg.titleX, y: 586, 'font-size': 12, 'font-weight': 'bold', 'text-anchor': 'middle'}, cfg.title), 'panel-title');
  yTitle(g, cfg.yTitleX, 643, 'Fold change');
  nm(add(g, 'line', {x1: cfg.legX, x2: cfg.legX + 10, y1: 594, y2: 594, stroke: '#e0222c', 'stroke-width': 1}), 'legend-line-circcul2');
  nm(add(g, 'circle', {cx: cfg.legX + 5, cy: 594, r: 2, fill: '#e0222c'}), 'legend-marker-circcul2');
  nm(add(g, 'text', {x: cfg.legX + 16, y: 597, 'font-size': 8, style: 'fill:#555'}, 'circCUL2'), 'legend-label-circcul2');
  nm(add(g, 'line', {x1: cfg.legX, x2: cfg.legX + 10, y1: 607, y2: 607, stroke: '#3d6aa8', 'stroke-width': 1}), 'legend-line-cul2');
  nm(add(g, 'rect', {x: cfg.legX + 3, y: 605, width: 4, height: 4, fill: '#3d6aa8'}), 'legend-marker-cul2');
  nm(add(g, 'text', {x: cfg.legX + 16, y: 610, 'font-size': 8, style: 'fill:#555'}, 'CUL2'), 'legend-label-cul2');
}
linePanel('panel-j-ags', {axisX: 35.3, axisEnd: 184, x0: 54, x4: 165.7, bx: 175, by0: 626, by1: 685, titleX: 104, yTitleX: 12, legX: 150.7, title: 'AGS cell lines'}, jAgsCirc, jAgsCircErr, jAgsCul, jAgsCulErr);
linePanel('panel-j-sgc', {axisX: 240.7, axisEnd: 392, x0: 259.3, x4: 371.3, bx: 380, by0: 633, by1: 681.7, titleX: 314.3, yTitleX: 216, legX: 356.7, title: 'SGC-7901 cell lines'}, jSgcCirc, jSgcCircErr, jSgcCul, jSgcCulErr);

/* ---- Panel K ---- */
(function () {
  const g = group('panel-k-stacked-bars');
  const y = linear(0, 100, 702.3, 602.3);
  const x = linear(0, 5, 465.7, 691.7);
  yAxis(g, 435, y, kTicks, String, 592.7);
  xAxisLine(g, 435, 716, 702.3);
  kLabels.forEach(function (label, i) {
    const cx = x(i);
    errorBar(g, cx, y(100), y(100 + kCytoErr[i]), 6, '#333', 1);
    nm(add(g, 'rect', {x: cx - 15, y: y(100), width: 30, height: y(kNuclear[i]) - y(100), fill: '#d2202a', stroke: '#e9a7aa', 'stroke-width': .6}), 'bar-cytoplasmic-' + label.toLowerCase());
    nm(add(g, 'rect', {x: cx - 15, y: y(kNuclear[i]), width: 30, height: y(0) - y(kNuclear[i]), fill: '#005a9c', stroke: '#8db4d6', 'stroke-width': .6}), 'bar-nuclear-' + label.toLowerCase());
    errorBar(g, cx, y(kNuclear[i]), y(kNuclear[i] + kNuclearErr[i]), 6, '#111', 1);
    xTick(g, cx, 702.3, label, 714, 8.6);
  });
  yTitle(g, 414, 652, '%(Total)', 9);
  nm(add(g, 'rect', {x: 593.3, y: 564.3, width: 12.5, height: 6.5, fill: '#d2202a'}), 'legend-swatch-cytoplasmic');
  nm(add(g, 'text', {x: 611.7, y: 570.8, 'font-size': 8.6, style: 'fill:#444'}, 'Cytoplasmic expression'), 'legend-label-cytoplasmic');
  nm(add(g, 'rect', {x: 593.3, y: 578.8, width: 12.5, height: 6.5, fill: '#005a9c'}), 'legend-swatch-nuclear');
  nm(add(g, 'text', {x: 611.7, y: 585.2, 'font-size': 8.6, style: 'fill:#444'}, 'Nuclear expression'), 'legend-label-nuclear');
  nm(add(g, 'line', {x1: 451.7, x2: 574, y1: 721.3, y2: 721.3, stroke: '#222', 'stroke-width': 1}), 'group-line-ags');
  nm(add(g, 'line', {x1: 587.7, x2: 710, y1: 721.3, y2: 721.3, stroke: '#222', 'stroke-width': 1}), 'group-line-sgc');
  nm(add(g, 'text', {x: 512.3, y: 735, 'font-size': 8.6, 'font-weight': 'bold', 'text-anchor': 'middle'}, 'AGS cell lines'), 'group-label-ags');
  nm(add(g, 'text', {x: 651, y: 735, 'font-size': 8.6, 'font-weight': 'bold', 'text-anchor': 'middle'}, 'SGC-7901 cell lines'), 'group-label-sgc');
})();

/* ---- Panel F: chromosome + chromatogram ---- */
(function () {
  const host = document.getElementById('chromosome');
  const total = chromoBandWeights.reduce(function (a, b) { return a + b; }, 0);
  let acc = 0;
  const x = linear(0, total, 492, 707);
  chromoBandWeights.forEach(function (w, i) {
    nm(add(host, 'rect', {x: x(acc), y: 202, width: x(acc + w) - x(acc), height: 9, fill: chromoBandShades[i]}), 'chromosome-band');
    acc += w;
  });
  nm(add(host, 'rect', {x: 492, y: 202, width: 215, height: 9, fill: 'none', stroke: '#666', 'stroke-width': .4}), 'chromosome-outline');

  const s = document.getElementById('sanger');
  const sx = linear(0, sangerBases.length - 1, 438, 686);
  const base = 358, full = 39;
  const colors = {A: '#78d478', C: '#8090f0', G: '#777777', T: '#f28a8a'};
  ['A', 'C', 'G', 'T'].forEach(function (b) {
    let d = '';
    for (let px = 434; px <= 690; px += 0.5) {
      let v = 0;
      sangerBases.forEach(function (c, i) {
        if (c === b) {
          const t = (px - sx(i)) / 2.2;
          v += sangerHeights[i] * Math.exp(-t * t);
        }
      });
      d += (d ? 'L' : 'M') + px + ' ' + (base - v * full).toFixed(2);
    }
    nm(add(s, 'path', {d: d, fill: 'none', stroke: colors[b], 'stroke-width': .65}), 'trace-' + b.toLowerCase());
  });
  sangerBases.forEach(function (c, i) {
    const t = nm(add(s, 'text', {x: sx(i), y: 321, 'font-size': 3.8, 'text-anchor': 'middle'}, c), 'base-call');
    t.style.fill = colors[c];
  });
})();

/* ---- Panel I: condition table ---- */
(function () {
  const host = document.getElementById('gelTable');
  const rows = [gelRnase, gelCdna, gelGdna];
  const rowY = [496.3, 510, 524];
  const blocks = [
    {labelX: 366.7, x0: 419, x5: 515.7},
    {labelX: 550.7, x0: 602, x5: 699.3}
  ];
  blocks.forEach(function (b) {
    const x = linear(0, 5, b.x0, b.x5);
    gelPrimers.forEach(function (kind, i) {
      const cx = x(i), cy = 482.7, d = kind === 'divergent'
        ? 'M' + (cx - 6.3) + ' ' + cy + 'l6.3 -3.2v6.4zM' + (cx + 6.3) + ' ' + cy + 'l-6.3 -3.2v6.4z'
        : 'M' + (cx - 6.3) + ' ' + (cy - 3.2) + 'l5.8 3.2 -5.8 3.2zM' + (cx + 6.3) + ' ' + (cy - 3.2) + 'l-5.8 3.2 5.8 3.2z';
      nm(add(host, 'path', {d: d, fill: '#000'}), 'primer-icon-' + kind);
    });
    gelRows.forEach(function (label, r) {
      nm(add(host, 'text', {x: b.labelX, y: rowY[r] + 3.2, 'font-size': 9.5, 'font-weight': 'bold'}, label), 'condition-label');
      rows[r].forEach(function (sign, i) {
        nm(add(host, 'text', {x: x(i), y: rowY[r] + 3.2, 'font-size': 9.5, 'font-weight': 'bold', 'text-anchor': 'middle'}, sign), 'condition-sign');
      });
    });
  });
})();
</script>
</body>
</html>
